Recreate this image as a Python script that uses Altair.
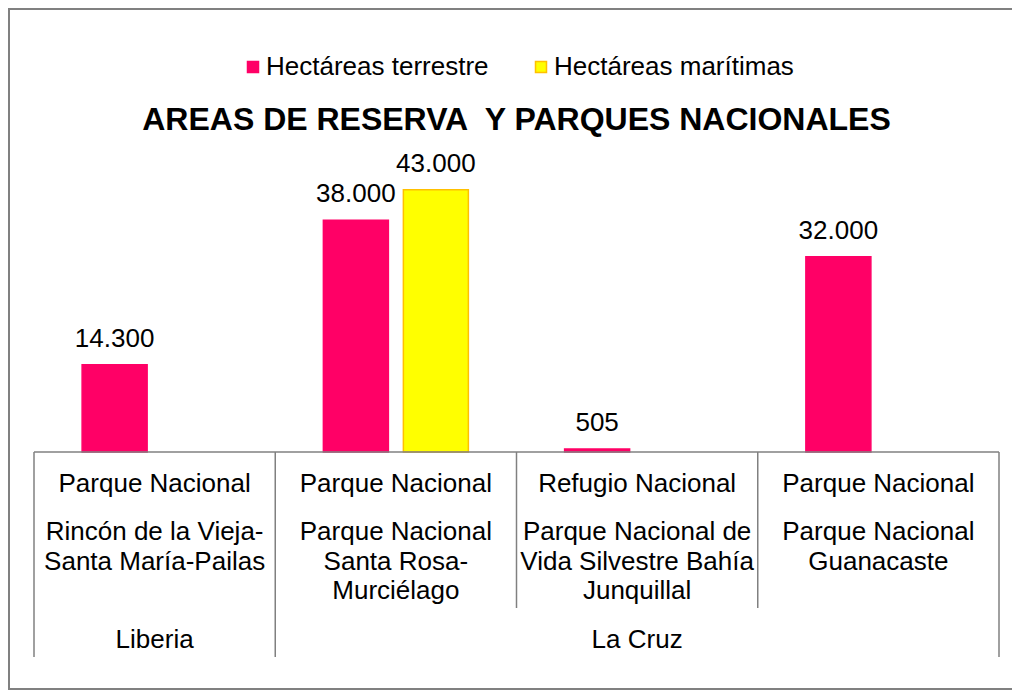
import altair as alt
import pandas as pd

# ---- data ----
names = [
    "Rincón de la Vieja-\nSanta María-Pailas",
    "Parque Nacional\nSanta Rosa-\nMurciélago",
    "Parque Nacional de\nVida Silvestre Bahía\nJunquillal",
    "Parque Nacional\nGuanacaste",
]
types = ["Parque Nacional", "Parque Nacional", "Refugio Nacional", "Parque Nacional"]
municipalities = ["Liberia", "La Cruz"]
municipality_first = [0, 1]      # index of first category of each municipality
municipality_last = [0, 3]       # index of last category
municipality_center = [0, 2]     # category at the centre of the span
series = ["Hectáreas terrestre", "Hectáreas marítimas"]
terrestre = [14300, 38000, 505, 32000]
maritimas = [None, 43000, None, None]
title_text = "AREAS DE RESERVA \u00a0Y PARQUES NACIONALES"

# ---- tables built from the arrays ----
rows = []
for n, t, m in zip(names, terrestre, maritimas):
    if t is not None:
        rows.append({"name": n, "series": series[0], "value": t})
    if m is not None:
        rows.append({"name": n, "series": series[1], "value": m})
bars_df = pd.DataFrame(rows)
cats_df = pd.DataFrame({"name": names, "type": types})
muni_df = pd.DataFrame({"muni": municipalities,
                        "name": [names[i] for i in municipality_center]})
full_left_df = pd.DataFrame({"name": [names[i] for i in municipality_first]})
short_left_df = pd.DataFrame({"name": [n for i, n in enumerate(names) if i not in municipality_first]})
right_df = pd.DataFrame({"name": [names[municipality_last[-1]]]})
one_df = pd.DataFrame({"a": [0]})
title_df = pd.DataFrame({"t": [title_text]})

FONT = "Liberation Sans"
GRAY = "#808080"
W, H = 965, 305
x_scale = alt.Scale(domain=names, paddingInner=0, paddingOuter=0)
y_scale = alt.Scale(domain=[0, 50000])
off_scale = alt.Scale(domain=series, paddingInner=0.1875, paddingOuter=0.6016)


def X(**kw):
    return alt.X("name:N", sort=names, scale=x_scale, axis=None, **kw)


legend_kw = dict(title=None, orient="none", legendX=206, legendY=-93,
                 direction="horizontal", symbolType="square", symbolSize=121,
                 labelFontSize=26, labelFont=FONT, labelColor="black",
                 labelLimit=500, columnPadding=39, labelOffset=0,
                 symbolStrokeWidth=1.5)

bars = alt.Chart(bars_df).mark_bar(strokeWidth=1.5).encode(
    x=X(),
    xOffset=alt.XOffset("series:N", scale=off_scale),
    y=alt.Y("value:Q", scale=y_scale, axis=None),
    color=alt.Color("series:N", scale=alt.Scale(domain=series, range=["#FF0066", "#FFFF00"]),
                    legend=alt.Legend(**legend_kw)),
    stroke=alt.Stroke("series:N", scale=alt.Scale(domain=series, range=["#FF0066", "#FFC000"]),
                      legend=alt.Legend(**legend_kw)),
)

values = alt.Chart(bars_df).mark_text(dy=-18, fontSize=26, font=FONT, color="black",
                                      baseline="alphabetic").encode(
    x=X(),
    xOffset=alt.XOffset("series:N", scale=off_scale),
    y=alt.Y("value:Q", scale=y_scale, axis=None),
    text=alt.Text("value:Q", format=",.0f"),
)

baseline_rule = alt.Chart(one_df).mark_rule(color=GRAY, strokeWidth=1.5).encode(
    x=alt.value(0), x2=alt.value("width"), y=alt.Y(datum=0, scale=y_scale, axis=None),
)

full_left = alt.Chart(full_left_df).mark_rule(color=GRAY, strokeWidth=1.5).encode(
    x=X(bandPosition=0), y=alt.value(H), y2=alt.value(H + 205))
short_left = alt.Chart(short_left_df).mark_rule(color=GRAY, strokeWidth=1.5).encode(
    x=X(bandPosition=0), y=alt.value(H), y2=alt.value(H + 156))
right_rule = alt.Chart(right_df).mark_rule(color=GRAY, strokeWidth=1.5).encode(
    x=X(bandPosition=1), y=alt.value(H), y2=alt.value(H + 205))

type_text = alt.Chart(cats_df).mark_text(fontSize=26, font=FONT, color="black",
                                         baseline="alphabetic").encode(
    x=X(), y=alt.value(H + 40), text="type:N")
name_text = alt.Chart(cats_df).mark_text(fontSize=26, font=FONT, color="black",
                                         baseline="alphabetic", lineBreak="\n",
                                         lineHeight=29.5).encode(
    x=X(), y=alt.value(H + 88), text="name:N")
muni_text = alt.Chart(muni_df).mark_text(fontSize=26, font=FONT, color="black",
                                         baseline="alphabetic").encode(
    x=X(), y=alt.value(H + 196), text="muni:N")

title = alt.Chart(title_df).mark_text(fontSize=32, font=FONT, fontWeight="bold", color="black",
                                      baseline="alphabetic", align="center").encode(
    x=alt.value(W / 2), y=alt.value(-17), text="t:N")

# chart frame: top, left and bottom edges (the right edge lies outside the picture)
frame_top = alt.Chart(one_df).mark_rule(color=GRAY, strokeWidth=2).encode(
    x=alt.value(-25), x2=alt.value(978), y=alt.value(-138))
frame_bottom = alt.Chart(one_df).mark_rule(color=GRAY, strokeWidth=2).encode(
    x=alt.value(-25), x2=alt.value(978), y=alt.value(542))
frame_left = alt.Chart(one_df).mark_rule(color=GRAY, strokeWidth=2).encode(
    x=alt.value(-25), y=alt.value(-139), y2=alt.value(543))

chart = alt.layer(
    frame_top, frame_bottom, frame_left,
    bars, values, baseline_rule, full_left, short_left, right_rule,
    type_text, name_text, muni_text, title,
).properties(
    width=W, height=H,
    autosize="none",
    padding={"left": 26, "top": 139, "right": 13, "bottom": 239},
).configure(
    locale={"number": {"decimal": ",", "thousands": ".", "grouping": [3], "currency": ["", ""]}},
).configure_view(stroke=None)

chart.save("out.html", embed_options={"renderer": "svg", "actions": False})
